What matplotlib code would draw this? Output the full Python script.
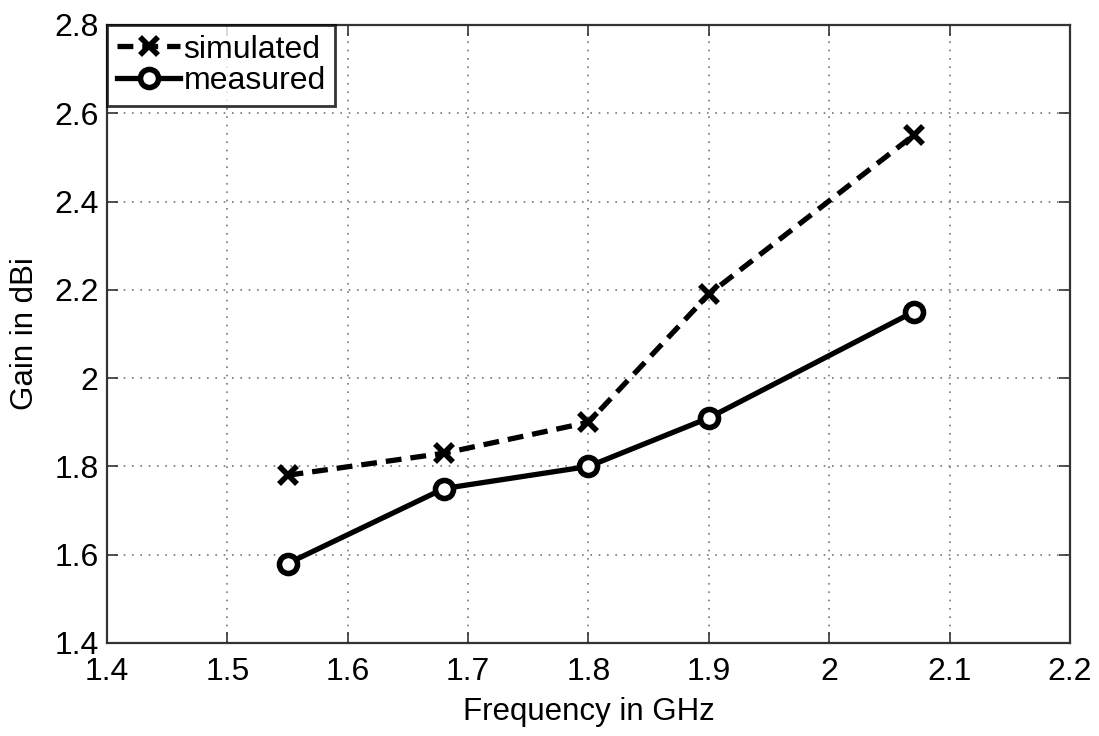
import matplotlib
matplotlib.use("Agg")
import matplotlib.pyplot as plt
from matplotlib.ticker import FixedLocator, FuncFormatter

plt.rcParams["font.family"] = ["Liberation Sans", "DejaVu Sans"]

# data
freq = [1.55, 1.68, 1.80, 1.90, 2.07]
gain_sim = [1.78, 1.83, 1.90, 2.19, 2.55]
gain_meas = [1.58, 1.75, 1.80, 1.91, 2.15]

x_ticks = [1.4, 1.5, 1.6, 1.7, 1.8, 1.9, 2.0, 2.1, 2.2]
y_ticks = [1.4, 1.6, 1.8, 2.0, 2.2, 2.4, 2.6, 2.8]


def fmt(v, pos):
    s = "%.1f" % v
    return s[:-2] if s.endswith(".0") else s


fig = plt.figure(figsize=(10.99, 7.36), dpi=100)
ax = fig.add_axes([107 / 1099, 1 - 643 / 736, (1070 - 107) / 1099, (643 - 25) / 736])

ax.plot(freq, gain_sim, linestyle=(0, (3.0, 1.7)), color="black", linewidth=3.8,
        marker="x", markersize=13, markeredgewidth=4, label="simulated")
ax.plot(freq, gain_meas, linestyle="-", color="black", linewidth=3.8,
        marker="o", markersize=13, markerfacecolor="white", markeredgewidth=4,
        label="measured")

ax.set_xlim(1.4, 2.2)
ax.set_ylim(1.4, 2.8)
ax.xaxis.set_major_locator(FixedLocator(x_ticks))
ax.yaxis.set_major_locator(FixedLocator(y_ticks))
ax.xaxis.set_major_formatter(FuncFormatter(fmt))
ax.yaxis.set_major_formatter(FuncFormatter(fmt))

ax.grid(True, linestyle=(0, (1, 4)), color="#777777", linewidth=1.2)
ax.tick_params(direction="in", length=8, width=1.2, labelsize=23, top=True, right=True,
               colors="#333333", labelcolor="black")
ax.tick_params(axis="x", pad=10)
ax.tick_params(axis="y", pad=6)
for sp in ax.spines.values():
    sp.set_color("#333333")
    sp.set_linewidth(1.6)

ax.set_xlabel("Frequency in GHz", fontsize=22.5, labelpad=7)
ax.set_ylabel("Gain in dBi", fontsize=22.5, labelpad=10)

leg = ax.legend(loc="upper left", fontsize=23, frameon=True, fancybox=False,
                borderaxespad=0, handlelength=2.0, handletextpad=0.1,
                borderpad=0.3, labelspacing=0.05)
leg.get_frame().set_edgecolor("black")
leg.get_frame().set_linewidth(2)

fig.savefig("out.png", dpi=100)
